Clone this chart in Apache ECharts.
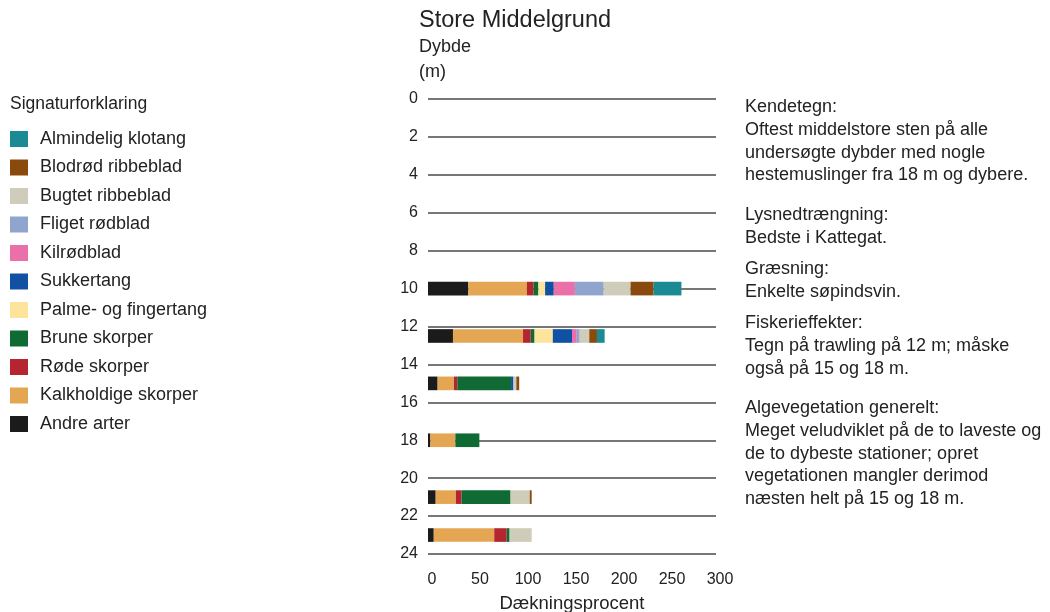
<!DOCTYPE html>
<html>
<head>
<meta charset="utf-8">
<title>Store Middelgrund</title>
<script src="https://cdn.jsdelivr.net/npm/echarts@6/dist/echarts.min.js"></script>
<style>
  html, body { margin: 0; padding: 0; background: #fff; overflow: hidden; }
  #chart { width: 1050px; height: 612px; }
</style>
</head>
<body>
<div id="chart"></div>
<script>
// dybder (m) for stationerne
var depths = [10, 12.5, 15, 18, 21, 23];
var depthTicks = [0, 2, 4, 6, 8, 10, 12, 14, 16, 18, 20, 22, 24];
var coverTicks = [0, 50, 100, 150, 200, 250, 300];

// dækningsprocent pr. art, samme rækkefølge som depths
var andreArter     = [42, 26, 10, 2.5, 8, 6];
var kalkholdige    = [61, 73, 17, 26, 21, 63];
var rodeSkorper    = [7, 8, 3.5, 0, 6, 13];
var bruneSkorper   = [5, 4, 56, 25, 51, 3];
var palmeFinger    = [7, 19, 0, 0, 0, 0];
var sukkertang     = [9, 20, 2.5, 0, 0, 0];
var kilrodblad     = [22, 5, 0, 0, 0, 0];
var fligetRodblad  = [30, 3, 0, 0, 0, 0];
var bugtetRibbe    = [28, 10, 3, 0, 20, 23];
var blodrodRibbe   = [24, 8, 3, 0, 2, 0];
var klotang        = [29, 8, 0, 0, 0, 0];

// stablet fra venstre mod højre
var species = [
  {name: 'Andre arter',          values: andreArter,    color: '#1b1b1b'},
  {name: 'Kalkholdige skorper',  values: kalkholdige,   color: '#e4a653'},
  {name: 'Røde skorper',         values: rodeSkorper,   color: '#b5252f'},
  {name: 'Brune skorper',        values: bruneSkorper,  color: '#0f6a33'},
  {name: 'Palme- og fingertang', values: palmeFinger,   color: '#fde49b'},
  {name: 'Sukkertang',           values: sukkertang,    color: '#1151a3'},
  {name: 'Kilrødblad',           values: kilrodblad,    color: '#ea70a9'},
  {name: 'Fliget rødblad',       values: fligetRodblad, color: '#90a5cd'},
  {name: 'Bugtet ribbeblad',     values: bugtetRibbe,   color: '#cfccb9'},
  {name: 'Blodrød ribbeblad',    values: blodrodRibbe,  color: '#8a4a0d'},
  {name: 'Almindelig klotang',   values: klotang,       color: '#1b8a95'}
];

var textColor = '#222';
var fontFamily = '"Liberation Sans", Arial, sans-serif';

// tegn et stykke af en vandret stablet søjle
function renderSegment(params, api) {
  var start = api.value(0), end = api.value(1), depth = api.value(2);
  if (end - start <= 0) return;
  var p0 = api.coord([start, depth]);
  var p1 = api.coord([end, depth]);
  var h = api.size([0, 0.72])[1];
  return {
    type: 'rect',
    shape: {x: p0[0], y: p0[1] - h / 2, width: p1[0] - p0[0], height: h},
    style: {fill: api.visual('color')}
  };
}

var cum = depths.map(function () { return 0; });
var series = species.map(function (s) {
  var data = s.values.map(function (v, i) {
    var item = [cum[i], cum[i] + v, depths[i]];
    cum[i] += v;
    return item;
  });
  return {
    name: s.name,
    type: 'custom',
    renderItem: renderSegment,
    itemStyle: {color: s.color},
    encode: {x: [0, 1], y: 2},
    data: data,
    z: 3
  };
});

var chart = echarts.init(document.getElementById('chart'), null, {renderer: 'canvas'});
var rightText = [
  {y: 107, lines: ['Kendetegn:', 'Oftest middelstore sten på alle', 'undersøgte dybder med nogle', 'hestemuslinger fra 18 m og dybere.']},
  {y: 215, lines: ['Lysnedtrængning:', 'Bedste i Kattegat.']},
  {y: 269, lines: ['Græsning:', 'Enkelte søpindsvin.']},
  {y: 323, lines: ['Fiskerieffekter:', 'Tegn på trawling på 12 m; måske', 'også på 15 og 18 m.']},
  {y: 408, lines: ['Algevegetation generelt:', 'Meget veludviklet på de to laveste og', 'de to dybeste stationer; opret', 'vegetationen mangler derimod', 'næsten helt på 15 og 18 m.']}
];
var graphics = [
  {type: 'text', left: 419, top: 9, style: {text: 'Store Middelgrund', font: '23.5px ' + fontFamily, fill: textColor}},
  {type: 'text', left: 419, top: 38, style: {text: 'Dybde', font: '18px ' + fontFamily, fill: textColor}},
  {type: 'text', left: 419, top: 63, style: {text: '(m)', font: '18px ' + fontFamily, fill: textColor}},
  {type: 'text', left: 10, top: 95, style: {text: 'Signaturforklaring', font: '17.5px ' + fontFamily, fill: textColor}}
];
rightText.forEach(function (block) {
  graphics.push({
    type: 'text', left: 745, top: block.y - 11,
    style: {text: block.lines.join('\n'), font: '18px ' + fontFamily, fill: textColor, lineHeight: 22.7}
  });
});

chart.setOption({
  animation: false,
  textStyle: {fontFamily: fontFamily},
  grid: {left: 428, width: 288, top: 99, height: 455, containLabel: false, outerBoundsMode: 'none'},
  legend: {
    orient: 'vertical',
    left: 10,
    top: 130,
    padding: 0,
    icon: 'rect',
    itemWidth: 18,
    itemHeight: 16,
    itemGap: 10.5,
    selectedMode: false,
    data: species.map(function (s) { return s.name; }).reverse(),
    textStyle: {fontSize: 18, color: textColor, lineHeight: 18, padding: [0, 0, 0, 7]}
  },
  xAxis: {
    type: 'value',
    min: 0,
    max: 300,
    interval: 50,
    name: 'Dækningsprocent',
    nameLocation: 'middle',
    nameGap: 40,
    nameTextStyle: {fontSize: 18.5, color: textColor},
    axisLine: {show: false},
    axisTick: {show: false},
    splitLine: {show: false},
    axisLabel: {
      fontSize: 16, color: textColor, margin: 18,
      padding: [0, 0, 0, 8],
      customValues: coverTicks
    }
  },
  yAxis: {
    type: 'value',
    inverse: true,
    min: 0,
    max: 24,
    interval: 2,
    axisLine: {show: false},
    axisTick: {show: false},
    axisLabel: {
      fontSize: 16, color: textColor, margin: 10,
      formatter: function (v) { return depthTicks.indexOf(v) >= 0 ? String(v) : ''; }
    },
    splitLine: {show: true, lineStyle: {color: '#4a4a4a', width: 1.5}}
  },
  graphic: graphics,
  series: series
});
</script>
</body>
</html>
